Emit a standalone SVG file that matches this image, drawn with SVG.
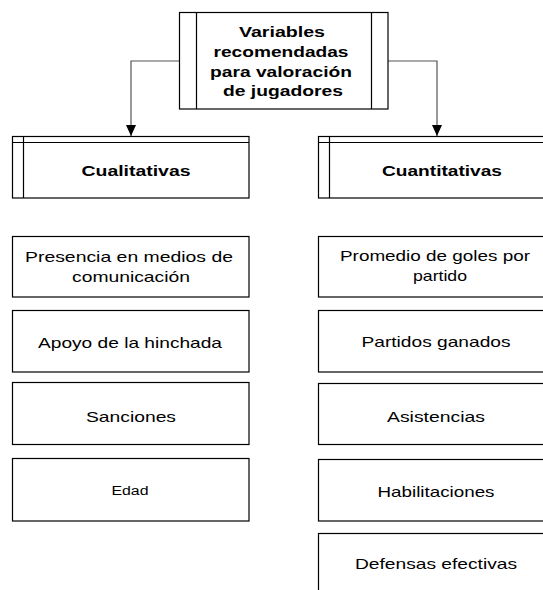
<svg xmlns="http://www.w3.org/2000/svg" width="543" height="590" viewBox="0 0 543 590">
<style>
.box{fill:#fff;stroke:#000;stroke-width:1.2}
.ln{fill:none;stroke:#000;stroke-width:1.2}
.con{fill:none;stroke:#555;stroke-width:1.2}
.t{font-family:"Liberation Sans",Arial,sans-serif;font-size:15px;fill:#000;text-anchor:middle}
.b{font-weight:bold}
.s{font-size:12px}
</style>
<defs>
<marker id="arr" markerWidth="11" markerHeight="10" refX="11" refY="5" orient="auto" markerUnits="userSpaceOnUse" viewBox="0 0 11 10">
<path d="M0,0 L11,5 L0,10 Z" fill="#000"/>
</marker>
</defs>
<rect width="543" height="590" fill="#fff"/>
<g id="connectors">
<path class="con" d="M179.5,61 H131 V136" marker-end="url(#arr)"/>
<path class="con" d="M388,61 H437 V136" marker-end="url(#arr)"/>
</g>
<g id="root">
<rect class="box" x="179.5" y="12.5" width="208.5" height="96.5"/>
<path class="ln" d="M196.5,12.5 V109 M371.5,12.5 V109"/>
<text class="t b" x="282" y="37" textLength="86" lengthAdjust="spacingAndGlyphs">Variables</text>
<text class="t b" x="281" y="57" textLength="135" lengthAdjust="spacingAndGlyphs">recomendadas</text>
<text class="t b" x="281" y="77" textLength="142" lengthAdjust="spacingAndGlyphs">para valoración</text>
<text class="t b" x="283" y="96" textLength="120" lengthAdjust="spacingAndGlyphs">de jugadores</text>
</g>
<g id="cualitativas">
<rect class="box" x="12.5" y="136.5" width="236.5" height="61.5"/>
<path class="ln" d="M12.5,142.5 H249 M23.5,136.5 V198"/>
<text class="t b" x="136" y="176" textLength="109" lengthAdjust="spacingAndGlyphs">Cualitativas</text>
</g>
<g id="cuantitativas">
<rect class="box" x="318.5" y="136.5" width="240" height="61.5"/>
<path class="ln" d="M318.5,142.5 H543 M329.5,136.5 V198"/>
<text class="t b" x="442" y="176" textLength="120" lengthAdjust="spacingAndGlyphs">Cuantitativas</text>
</g>
<g id="presencia">
<rect class="box" x="12.5" y="236.5" width="236.5" height="60.5"/>
<text class="t" x="129" y="262" textLength="208" lengthAdjust="spacingAndGlyphs">Presencia en medios de</text>
<text class="t" x="131" y="282" textLength="118" lengthAdjust="spacingAndGlyphs">comunicación</text>
</g>
<g id="apoyo">
<rect class="box" x="12.5" y="310.5" width="236.5" height="61.5"/>
<text class="t" x="130" y="348" textLength="184" lengthAdjust="spacingAndGlyphs">Apoyo de la hinchada</text>
</g>
<g id="sanciones">
<rect class="box" x="12.5" y="382.5" width="236.5" height="62"/>
<text class="t" x="131" y="422" textLength="90" lengthAdjust="spacingAndGlyphs">Sanciones</text>
</g>
<g id="edad">
<rect class="box" x="12.5" y="458.5" width="236.5" height="62.5"/>
<text class="t s" x="130" y="495" textLength="37" lengthAdjust="spacingAndGlyphs">Edad</text>
</g>
<g id="promedio">
<rect class="box" x="318.5" y="236.5" width="240" height="60.5"/>
<text class="t" x="435" y="261" textLength="190" lengthAdjust="spacingAndGlyphs">Promedio de goles por</text>
<text class="t" x="440" y="281" textLength="54" lengthAdjust="spacingAndGlyphs">partido</text>
</g>
<g id="partidos">
<rect class="box" x="318.5" y="310.5" width="240" height="61.5"/>
<text class="t" x="436" y="347" textLength="149" lengthAdjust="spacingAndGlyphs">Partidos ganados</text>
</g>
<g id="asistencias">
<rect class="box" x="318.5" y="383.5" width="240" height="61"/>
<text class="t" x="436" y="422" textLength="98" lengthAdjust="spacingAndGlyphs">Asistencias</text>
</g>
<g id="habilitaciones">
<rect class="box" x="318.5" y="459.5" width="240" height="61.5"/>
<text class="t" x="436" y="497" textLength="117" lengthAdjust="spacingAndGlyphs">Habilitaciones</text>
</g>
<g id="defensas">
<rect class="box" x="318.5" y="533.5" width="240" height="70"/>
<text class="t" x="436" y="569" textLength="162" lengthAdjust="spacingAndGlyphs">Defensas efectivas</text>
</g>
</svg>
